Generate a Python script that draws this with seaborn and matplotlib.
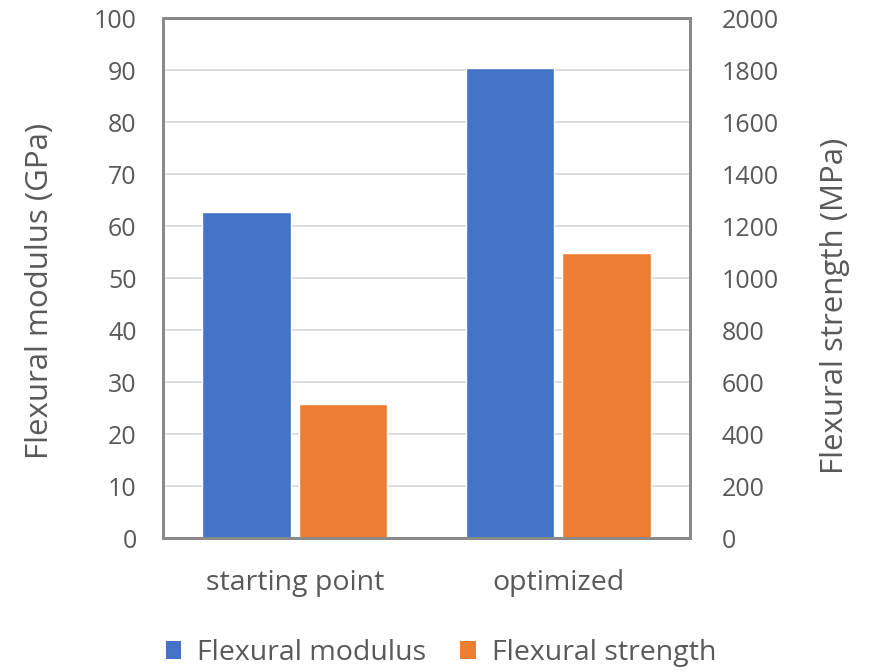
import matplotlib
matplotlib.use("Agg")
import matplotlib.pyplot as plt
import seaborn as sns
import pandas as pd
from matplotlib.patches import Patch

categories = ["starting point", "optimized"]
series_names = ["Flexural modulus", "Flexural strength"]
modulus_gpa = [62.7, 90.5]
strength_mpa = [515, 1095]
left_ticks = [0, 10, 20, 30, 40, 50, 60, 70, 80, 90, 100]
right_ticks = [0, 200, 400, 600, 800, 1000, 1200, 1400, 1600, 1800, 2000]
colors = ["#4472C4", "#ED7D31"]

sns.set_theme(style="white")
plt.rcParams["font.family"] = ["Open Sans", "DejaVu Sans"]
text_color = "#595959"

mod_df = pd.DataFrame({"category": categories, "series": series_names[0], "value": modulus_gpa})
str_df = pd.DataFrame({"category": categories, "series": series_names[1], "value": strength_mpa})

fig = plt.figure(figsize=(8.74, 6.72), dpi=100)
ax = fig.add_axes([0.1865, 0.1994, 0.603, 0.7736])
ax2 = ax.twinx()

palette = dict(zip(series_names, colors))
common = dict(x="category", y="value", hue="series", hue_order=series_names,
              order=categories, palette=palette, width=0.73, gap=0.08,
              dodge=True, saturation=1, legend=False)
sns.barplot(data=mod_df, ax=ax, **common)
sns.barplot(data=str_df, ax=ax2, **common)

ax.set_ylim(0, 100)
ax2.set_ylim(0, 2000)
ax.set_yticks(left_ticks)
ax2.set_yticks(right_ticks)
ax.set_xlim(-0.5, 1.5)

ax.set_axisbelow(True)
ax.yaxis.grid(True, color="#D9D9D9", linewidth=1.3)
ax.xaxis.grid(False)
ax2.grid(False)

for a in (ax, ax2):
    for s in a.spines.values():
        s.set_color("#898989")
        s.set_linewidth(2.0)
    a.tick_params(length=0, labelsize=18, colors=text_color)
    a.set_xlabel("")

ax.tick_params(axis="x", pad=22, labelsize=20.5)
ax.tick_params(axis="y", pad=19)
ax2.tick_params(axis="y", pad=23)

ax.set_ylabel("Flexural modulus (GPa)", fontsize=22.5, color=text_color)
ax2.set_ylabel("Flexural strength (MPa)", fontsize=22.5, color=text_color)
ax.yaxis.set_label_coords(-0.205, 0.475)
ax2.yaxis.set_label_coords(1.2467, 0.446)

handles = [Patch(facecolor=c, edgecolor="none") for c in colors]
fig.legend(handles, series_names, loc="center", bbox_to_anchor=(0.5046, 0.028),
           ncol=2, frameon=False, fontsize=20.5, labelcolor=text_color,
           handlelength=0.56, handleheight=0.56, handletextpad=0.55, columnspacing=1.2)

fig.savefig("out.png", dpi=100, facecolor="white")
